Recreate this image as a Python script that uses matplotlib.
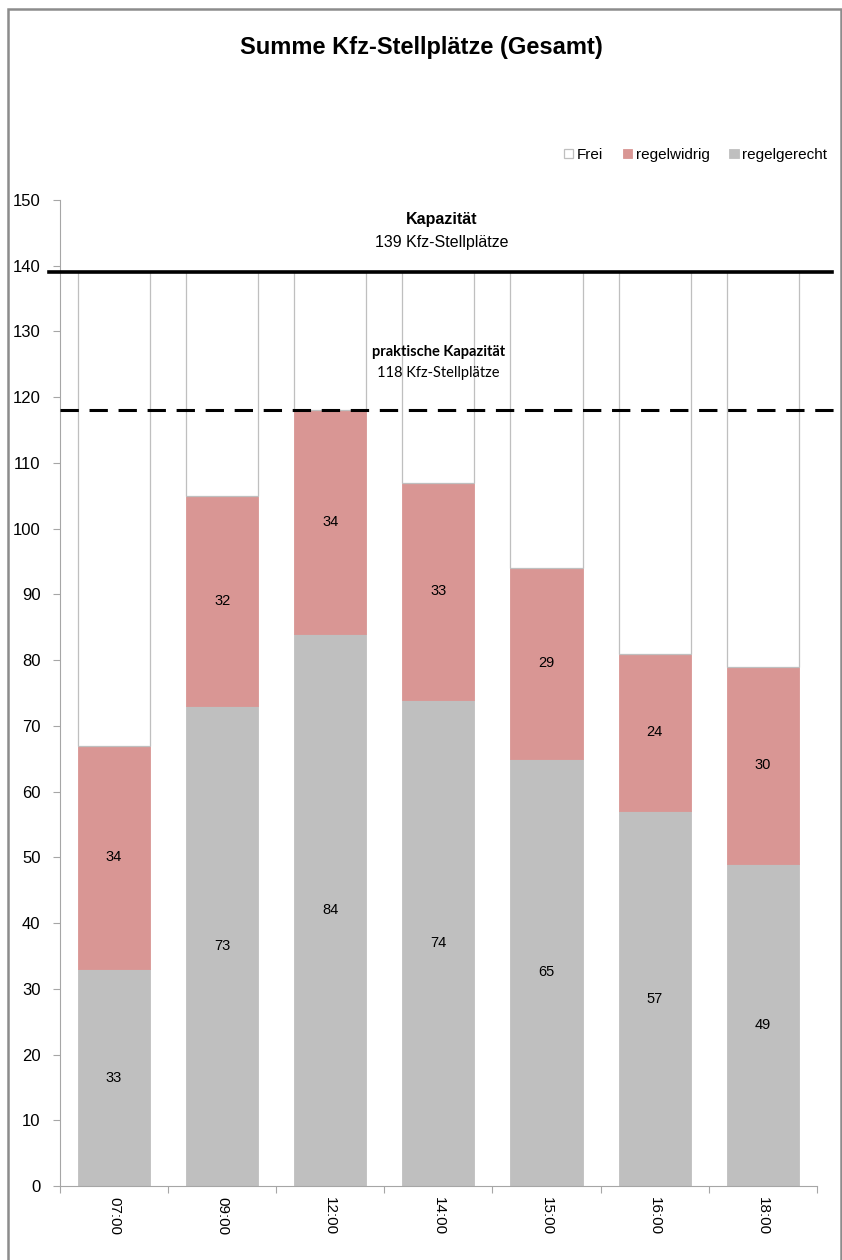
import numpy as np
import matplotlib.pyplot as plt
from matplotlib.patches import Rectangle

plt.rcParams['font.family'] = ['Liberation Sans', 'DejaVu Sans']

# Parkraumerhebung: Belegung je Erhebungszeitpunkt
zeiten = ["07:00", "09:00", "12:00", "14:00", "15:00", "16:00", "18:00"]
regelgerecht = [33, 73, 84, 74, 65, 57, 49]
regelwidrig = [34, 32, 34, 33, 29, 24, 30]
kapazitaet = 139
praktische_kapazitaet = 118

belegt = np.array(regelgerecht) + np.array(regelwidrig)
frei = kapazitaet - belegt

GRAU = "#bfbfbf"
ROSA = "#d99694"

fig = plt.figure(figsize=(8.42, 12.6), dpi=100)
ax = fig.add_axes([0.0713, 0.0587, 0.8987, 0.7826])

x = np.arange(len(zeiten))
w = 0.667
ax.bar(x, regelgerecht, w, color=GRAU, edgecolor=GRAU, linewidth=0.6, label="regelgerecht", zorder=2)
ax.bar(x, regelwidrig, w, bottom=regelgerecht, color=ROSA, edgecolor=ROSA, linewidth=0.6,
       label="regelwidrig", zorder=2)
ax.bar(x, frei, w, bottom=belegt, color="white", edgecolor=GRAU, linewidth=0.9, label="Frei", zorder=2)

# Werte in die Segmente schreiben
for i in range(len(zeiten)):
    ax.text(x[i], regelgerecht[i] / 2, str(regelgerecht[i]), ha="center", va="center", fontsize=10.5, zorder=3)
    ax.text(x[i], regelgerecht[i] + regelwidrig[i] / 2, str(regelwidrig[i]), ha="center", va="center",
            fontsize=10.5, zorder=3)

# Kapazitätslinien
ax.axhline(kapazitaet, xmin=-0.014, xmax=1.02, color="black", linewidth=2.6, clip_on=False, zorder=4)
ax.axhline(praktische_kapazitaet, xmin=0.0, xmax=1.024, color="black", linewidth=2.2,
           linestyle=(0, (6, 3.5)), clip_on=False, zorder=4)
ax.text(3.03, 147.1, "Kapazität", ha="center", va="center", fontsize=11.5, fontweight="bold")
ax.text(3.03, 143.5, f"{kapazitaet} Kfz-Stellplätze", ha="center", va="center", fontsize=11.5)
ax.text(3.0, 126.8, "praktische Kapazität", ha="center", va="center", fontsize=10.5,
        fontweight="bold", family=["Lato", "DejaVu Sans"])
ax.text(3.0, 123.7, f"{praktische_kapazitaet} Kfz-Stellplätze", ha="center", va="center", fontsize=10.5,
        family=["Lato", "DejaVu Sans"])

ax.set_xlim(-0.5, len(zeiten) - 0.5)
ax.set_ylim(0, 150)
ax.set_yticks(np.arange(0, 151, 10))
ax.set_xticks(x)
ax.set_xticklabels(zeiten, rotation=270, fontsize=11)
ax.set_xticks(np.arange(-0.5, len(zeiten)), minor=True)
ax.tick_params(axis="x", which="major", length=0, pad=8)
ax.tick_params(axis="x", which="minor", length=5, color="#a6a6a6", width=0.8)
ax.tick_params(axis="y", length=5, color="#a6a6a6", width=0.8, labelsize=12, pad=9)
for s in ["top", "right"]:
    ax.spines[s].set_visible(False)
for s in ["left", "bottom"]:
    ax.spines[s].set_color("#a6a6a6")
    ax.spines[s].set_linewidth(0.8)

fig.text(0.5, 0.962, "Summe Kfz-Stellplätze (Gesamt)", ha="center", va="center", fontsize=17,
         fontweight="bold")

handles, labels = ax.get_legend_handles_labels()
order = [2, 1, 0]
fig.legend([handles[i] for i in order], [labels[i] for i in order], loc="center right",
           bbox_to_anchor=(0.999, 0.877), ncol=3, frameon=False, fontsize=11,
           handlelength=0.6, handleheight=0.6, handletextpad=0.25, columnspacing=1.3)

# Rahmen um die Grafik
fig.patches.append(Rectangle((0.0095, -0.01), 0.989, 1.003, transform=fig.transFigure,
                             fill=False, edgecolor="#8c8c8c", linewidth=1.8))

fig.savefig("out.png", dpi=100, facecolor="white")
